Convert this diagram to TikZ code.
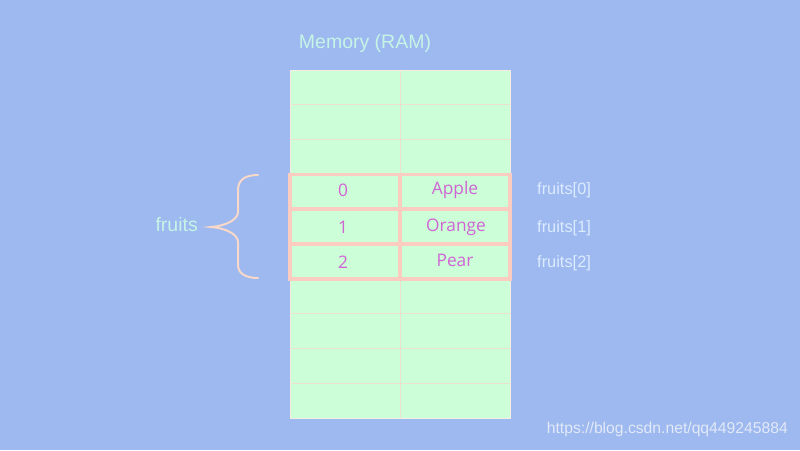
\documentclass[tikz,border=0pt]{standalone}
\usepackage{fontspec}
\setmainfont{Liberation Sans}
\newfontfamily\cellfont{Open Sans}
\definecolor{bg}{HTML}{9DB9EF}
\definecolor{cellgreen}{HTML}{CCFFD7}
\definecolor{gridc}{HTML}{EEE0CE}
\definecolor{hlc}{HTML}{FCCCC0}
\definecolor{magtext}{HTML}{D064D4}
\definecolor{minttext}{HTML}{C6F4E6}
\definecolor{labeltext}{HTML}{DCEBFF}
\definecolor{bracec}{HTML}{F8D8C8}
\definecolor{marktext}{HTML}{E2E9F7}
\begin{document}
\begin{tikzpicture}[x=1pt,y=-1pt,
  gridline/.style={draw=gridc,line width=1pt},
  hlbox/.style={draw=hlc,line width=3.8pt},
  celltext/.style={text=magtext,font=\cellfont\fontsize{17.3}{19}\selectfont,inner sep=0pt,anchor=center},
  idxlabel/.style={text=labeltext,font=\fontsize{16.4}{18}\selectfont,inner sep=0pt,anchor=west},
  titletext/.style={text=minttext,font=\fontsize{19.5}{22}\selectfont,inner sep=0pt}]
\fill[bg] (0,0) rectangle (800,450);
\useasboundingbox (0,0) rectangle (800,450);
% memory column
\fill[cellgreen] (290,70) rectangle (510,418);
\foreach \i in {1,...,9} \draw[gridline] (290,70+\i*34.8) -- (510,70+\i*34.8);
\draw[gridline] (400,70) -- (400,418);
\draw[draw=gridc!60!white,line width=0.8pt] (290,70) rectangle (510,418);
% highlighted rows
\foreach \i in {3,4,5} {
  \draw[hlbox] (290,70+\i*34.8) rectangle (400,70+\i*34.8+34.8);
  \draw[hlbox] (400,70+\i*34.8) rectangle (510,70+\i*34.8+34.8);
}
% texts
\node[titletext] (title) at (365,43) {Memory (RAM)};
\node[celltext] (i0) at (343,190) {0};
\node[celltext] (i1) at (343,227) {1};
\node[celltext] (i2) at (343,262) {2};
\node[celltext] (v0) at (455,190) {Apple};
\node[celltext] (v1) at (456,227) {Orange};
\node[celltext] (v2) at (455,260) {Pear};
\node[idxlabel] (f0) at (537,190) {fruits[0]};
\node[idxlabel] (f1) at (537,228) {fruits[1]};
\node[idxlabel] (f2) at (537,263) {fruits[2]};
\node[titletext,anchor=east] (fr) at (198,225) {fruits};
% brace
\draw[bracec,line width=2pt,line cap=round]
  (258,175) .. controls (245,175) and (238,180) .. (238,190) -- (238,212)
  .. controls (238,220) and (225,226) .. (211,227)
  .. controls (225,228) and (238,234) .. (238,242) -- (238,265)
  .. controls (238,273) and (245,278) .. (258,278);
\node[text=marktext,font=\fontsize{15.7}{18}\selectfont,inner sep=0pt,anchor=east] (wm) at (788,429) {https://blog.csdn.net/qq449245884};
\end{tikzpicture}
\end{document}
